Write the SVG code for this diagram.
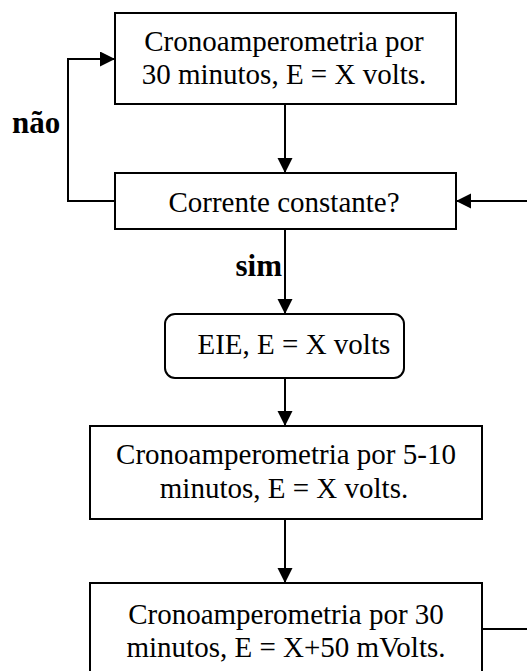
<svg xmlns="http://www.w3.org/2000/svg" width="527" height="671" viewBox="0 0 527 671">
  <style>
    .box { fill: #fff; stroke: #000; stroke-width: 2; }
    .txt { font-family: "Liberation Serif", "Times New Roman", serif; font-size: 29px; fill: #000; text-anchor: middle; }
    .txt.left { text-anchor: start; }
    .lbl { font-family: "Liberation Serif", "Times New Roman", serif; font-size: 31px; font-weight: bold; fill: #000; }
    .lbl.right { text-anchor: end; }
    .wire { fill: none; stroke: #000; stroke-width: 2; }
  </style>
  <defs>
    <marker id="arrow" markerUnits="userSpaceOnUse" markerWidth="16" markerHeight="16" refX="15" refY="7.5" orient="auto">
      <path d="M0,0 L15,7.5 L0,15 Z" fill="#000"/>
    </marker>
  </defs>
  <rect width="527" height="671" fill="#fff"/>

  <g id="connectors">
    <path class="wire" d="M285,104 V173" marker-end="url(#arrow)"/>
    <path class="wire" d="M115,201 H68 V59 H115" marker-end="url(#arrow)"/>
    <path class="wire" d="M527,201 H456" marker-end="url(#arrow)"/>
    <path class="wire" d="M285,229 V314" marker-end="url(#arrow)"/>
    <path class="wire" d="M285,378 V426" marker-end="url(#arrow)"/>
    <path class="wire" d="M285,519 V583" marker-end="url(#arrow)"/>
    <path class="wire" d="M482,629 H527"/>
    <text class="lbl" x="12" y="133">não</text>
    <text class="lbl right" x="282" y="276">sim</text>
  </g>

  <g id="crono30">
    <rect class="box" x="115" y="13" width="341" height="91"/>
    <text class="txt" x="284" y="51">Cronoamperometria por</text>
    <text class="txt" x="284" y="84">30 minutos, E = X volts.</text>
  </g>

  <g id="corrente">
    <rect class="box" x="115" y="173" width="341" height="56"/>
    <text class="txt" x="284" y="212">Corrente constante?</text>
  </g>

  <g id="eie">
    <rect class="box" x="165" y="314" width="239" height="64" rx="10" ry="10"/>
    <text class="txt left" x="197.5" y="354">EIE, E = X volts</text>
  </g>

  <g id="crono510">
    <rect class="box" x="90" y="426" width="392" height="93"/>
    <text class="txt" x="286" y="464">Cronoamperometria por 5-10</text>
    <text class="txt" x="284" y="498">minutos, E = X volts.</text>
  </g>

  <g id="crono50mv">
    <rect class="box" x="90" y="583" width="392" height="110"/>
    <text class="txt" x="286" y="624">Cronoamperometria por 30</text>
    <text class="txt" x="286" y="657">minutos, E = X+50 mVolts.</text>
  </g>
</svg>
